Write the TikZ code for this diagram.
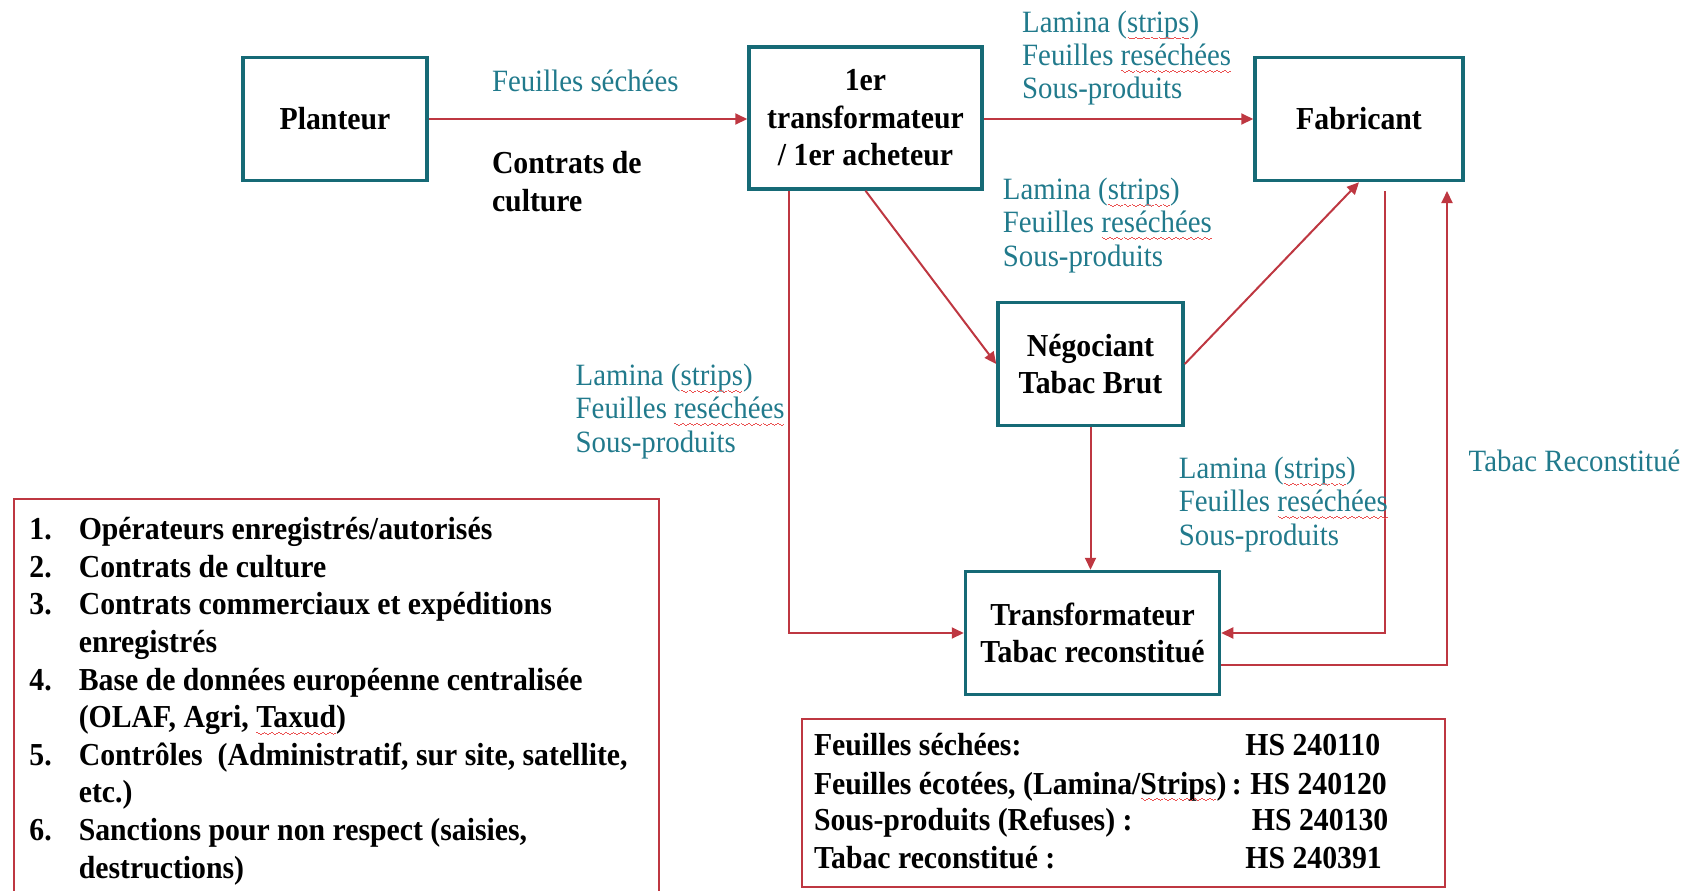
\documentclass[tikz,border=0pt]{standalone}
\usepackage{fontspec}
\setmainfont[FakeStretch=0.93]{Liberation Serif}
\usetikzlibrary{arrows.meta}

\definecolor{boxteal}{RGB}{22,106,118}
\definecolor{labteal}{RGB}{33,122,140}
\definecolor{flowred}{RGB}{190,55,65}
\definecolor{squig}{RGB}{235,80,80}

\newcommand\wavebit{\hbox{\vrule height-2.2pt depth2.7pt width.9pt\vrule height-2.6pt depth3.1pt width.9pt\vrule height-3pt depth3.5pt width.9pt\vrule height-2.6pt depth3.1pt width.9pt}}
\newcommand\spell[1]{\setbox0\hbox{#1}\rlap{\copy0}\textcolor{squig}{\hbox to\wd0{\xleaders\wavebit\hfil}}}
\newcommand\boxfont{\bfseries\fontsize{16}{18.8}\selectfont}
\newcommand\labfont{\fontsize{15.5}{16.65}\selectfont}

\begin{document}
\begin{tikzpicture}[x=0.5pt,y=-0.5pt,
  actor/.style={draw=boxteal,line width=1.75pt,align=center,font=\boxfont,inner sep=0pt},
  flow/.style={draw=flowred,line width=1pt,-{Triangle[length=6pt,width=5.5pt]}},
  flowlab/.style={text=labteal,font=\labfont,align=left,anchor=west,inner sep=0pt},
  note/.style={font=\boxfont,inner sep=0pt},
  legbox/.style={draw=flowred,line width=1pt}]

\useasboundingbox (0,0) rectangle (1683,890);

\node[actor,minimum width=92pt,minimum height=61.5pt] (plant) at (335,119) {Planteur};
\node[actor,minimum width=116.5pt,minimum height=71pt] (first) at (865.5,118) {1er\\transformateur\\/ 1er acheteur};
\node[actor,minimum width=104pt,minimum height=61.5pt] (fab) at (1359,119) {Fabricant};
\node[actor,minimum width=92.5pt,minimum height=61.5pt] (neg) at (1090.5,364) {Négociant\\Tabac Brut};
\node[actor,minimum width=127pt,minimum height=61.5pt] (tr) at (1092.5,633) {Transformateur\\Tabac reconstitué};

\coordinate (c1) at (789,0);
\coordinate (c2) at (1385,191);
\coordinate (c4) at (1447,191);

\draw[flow] (plant.east) -- (plant.east -| first.west);
\draw[flow] (first.east |- fab.west) -- (fab.west);
\draw[flow] (first.south) -- (neg.west);
\draw[flow] (neg.east) -- (fab.south);
\draw[flow] (first.south -| c1) |- (tr.west);
\draw[flow] (neg.south) -- (neg.south |- tr.north);
\draw[flow] (c2) |- (tr.east);
\draw[flow] ([yshift=-16pt]tr.east) -| (c4);

\node[flowlab] (lab1) at (491.6,80.6) {Feuilles séchées};
\node[note,align=left,anchor=west] (lab2) at (491.6,181.3) {Contrats de\\culture};
\node[flowlab] (lab3) at (1021.8,58.2) {Lamina (\spell{strips})\\Feuilles \spell{reséchées}\\Sous-produits};
\node[flowlab] (lab4) at (1002.5,225.5) {Lamina (\spell{strips})\\Feuilles \spell{reséchées}\\Sous-produits};
\node[flowlab] (lab5) at (575.3,411.5) {Lamina (\spell{strips})\\Feuilles \spell{reséchées}\\Sous-produits};
\node[flowlab] (lab6) at (1178.5,504.5) {Lamina (\spell{strips})\\Feuilles \spell{reséchées}\\Sous-produits};
\node[flowlab] (lab7) at (1468.3,460.4) {Tabac Reconstitué};

\draw[legbox] (14,900) |- (659,499) -- (659,900);
\node[note,anchor=north west] (legend) at (29,513) {\begin{tabular}{@{}p{24.7pt}@{}l@{}}
1. & Opérateurs enregistrés/autorisés\\
2. & Contrats de culture\\
3. & Contrats commerciaux et expéditions\\
 & enregistrés\\
4. & Base de données européenne centralisée\\
 & (OLAF, Agri, \spell{Taxud})\\
5. & Contrôles\ \ (Administratif, sur site, satellite,\\
 & etc.)\\
6. & Sanctions pour non respect (saisies,\\
 & destructions)
\end{tabular}};

\draw[legbox] (802,719) rectangle (1445,886.5);
\node[note,anchor=base west] (hs1) at (813.6,755.6) {Feuilles séchées:};
\node[note,anchor=base west] (hs1c) at (1245,755.6) {HS 240110};
\node[note,anchor=base west] (hs2) at (813.6,794) {Feuilles écotées, (Lamina/\spell{Strips})\,:};
\node[note,anchor=base west] (hs2c) at (1250,794) {HS 240120};
\node[note,anchor=base west] (hs3) at (813.6,830.6) {Sous-produits (Refuses) :};
\node[note,anchor=base west] (hs3c) at (1251.5,830.6) {HS 240130};
\node[note,anchor=base west] (hs4) at (813.6,868.2) {Tabac reconstitué :};
\node[note,anchor=base west] (hs4c) at (1245,868.2) {HS 240391};

\end{tikzpicture}
\end{document}
